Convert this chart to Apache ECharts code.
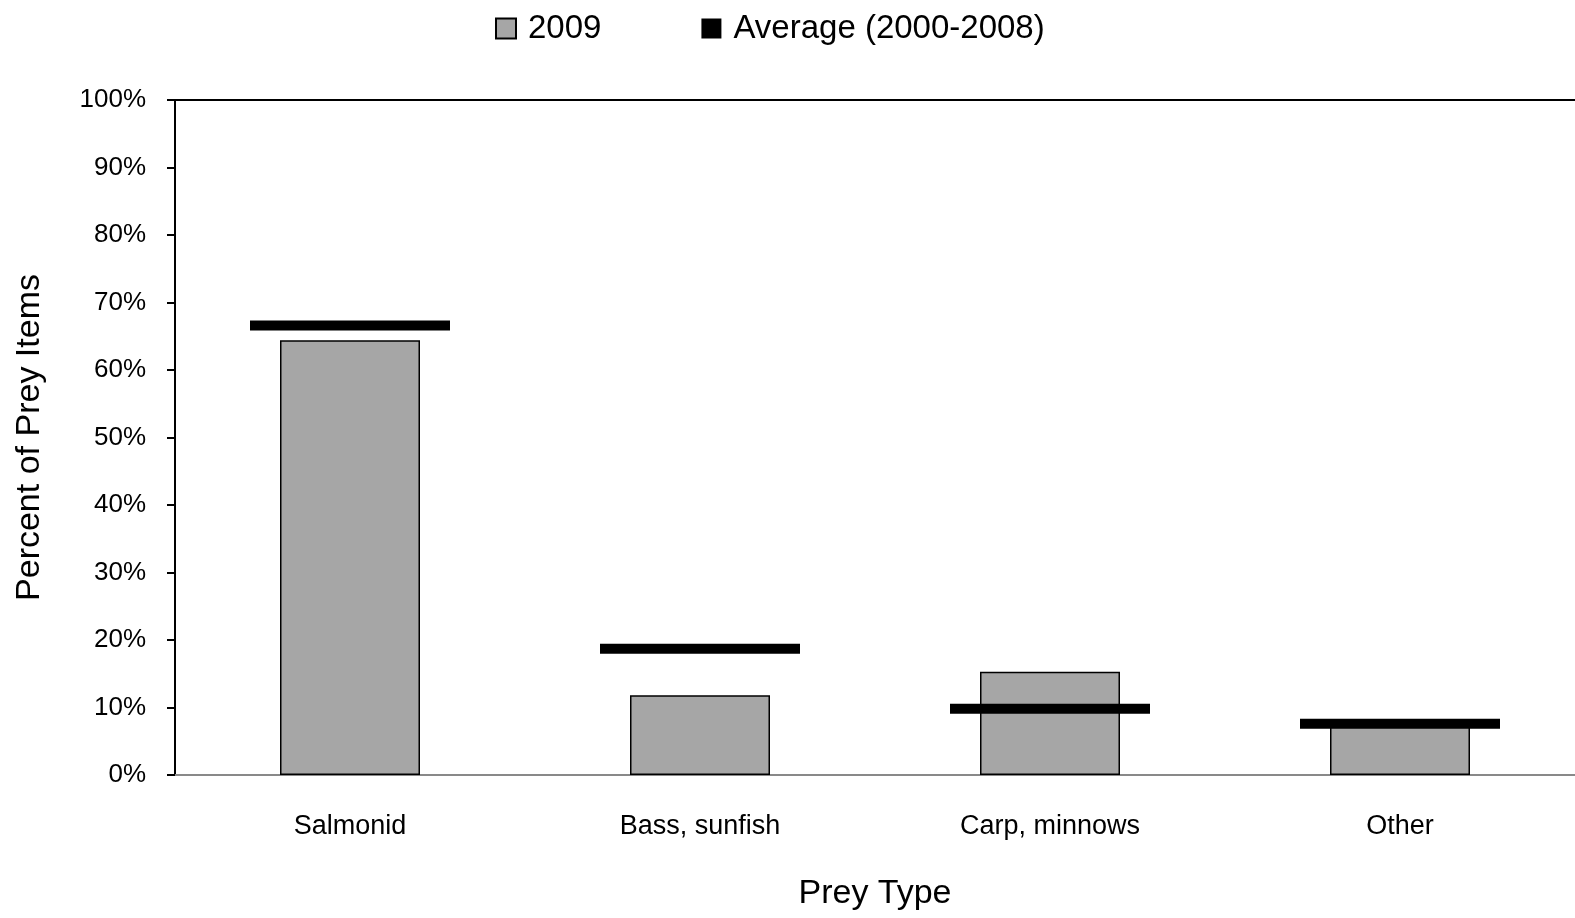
<!DOCTYPE html>
<html>
<head>
<meta charset="utf-8">
<script src="https://cdn.jsdelivr.net/npm/echarts@6/dist/echarts.min.js"></script>
<style>html,body{margin:0;padding:0;background:#fff}#c{width:1575px;height:918px}</style>
</head>
<body>
<div id="c"></div>
<script>
const categories = ['Salmonid', 'Bass, sunfish', 'Carp, minnows', 'Other'];
const values2009 = [64.4, 11.8, 15.3, 8.3];
const valuesAverage = [66.6, 18.7, 9.8, 7.6];
const yTicks = [0, 10, 20, 30, 40, 50, 60, 70, 80, 90, 100];

const FONT = 'Liberation Sans';
const chart = echarts.init(document.getElementById('c'), null, {renderer: 'canvas'});
chart.setOption({
  animation: false,
  textStyle: {fontFamily: FONT},
  legend: {
    top: 7, left: 490, itemWidth: 20, itemHeight: 20, itemGap: 100,
    textStyle: {fontFamily: FONT, fontSize: 33, color: '#000', padding: [0, 0, 0, 7]},
    data: [{name: '2009', icon: 'rect'}, {name: 'Average (2000-2008)', icon: 'rect'}]
  },
  grid: {left: 175, right: 0, top: 100, bottom: 143},
  xAxis: [{
    type: 'category', data: categories,
    name: 'Prey Type', nameLocation: 'middle', nameGap: 102,
    nameTextStyle: {fontSize: 34, color: '#000', fontFamily: FONT},
    axisLine: {lineStyle: {color: '#898989', width: 2}},
    axisTick: {show: false},
    axisLabel: {fontSize: 27, color: '#000', margin: 38, fontFamily: FONT}
  }, {
    type: 'category', data: categories, position: 'top',
    axisLine: {lineStyle: {color: '#000', width: 2}},
    axisTick: {show: false}, axisLabel: {show: false}
  }],
  yAxis: {
    type: 'value', min: 0, max: 100, interval: 10,
    name: 'Percent of Prey Items', nameLocation: 'middle', nameGap: 128,
    nameTextStyle: {fontSize: 34, color: '#000', fontFamily: FONT},
    axisLine: {show: true, lineStyle: {color: '#000', width: 2}},
    axisTick: {show: true, length: 8, inside: false, lineStyle: {color: '#000', width: 2}},
    axisLabel: {fontSize: 26, color: '#000', margin: 29, fontFamily: FONT,
      formatter: v => yTicks.includes(v) ? v + '%' : ''},
    splitLine: {show: false}
  },
  series: [{
    name: '2009', type: 'bar', data: values2009, barWidth: '40%',
    itemStyle: {color: '#a6a6a6', borderColor: '#000', borderWidth: 1.5}
  }, {
    name: 'Average (2000-2008)', type: 'scatter', data: valuesAverage,
    symbol: 'rect', symbolSize: [200, 10], z: 5,
    itemStyle: {color: '#000', opacity: 1}
  }]
});
</script>
</body>
</html>
